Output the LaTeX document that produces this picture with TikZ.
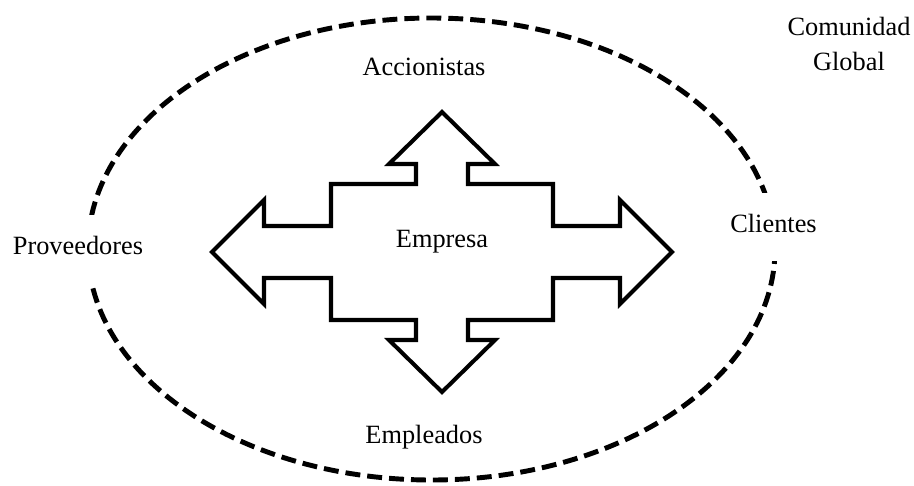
\documentclass[tikz,border=0pt]{standalone}
\usepackage{fontspec}
\setmainfont{Liberation Serif}
\usepackage{tikz}
\usetikzlibrary{calc,positioning}

\tikzset{
  lbl/.style={font=\fontsize{15}{19.8}\selectfont, inner sep=0pt, anchor=base},
  gaplbl/.style={lbl, fill=white, inner xsep=3pt, text height=0.78cm, text depth=0.57cm},
  ring/.style={line width=2.8pt, dash pattern=on 8.5pt off 4pt},
  cross/.style={line width=2.3pt, line join=miter}
}

\begin{document}
\begin{tikzpicture}[x=0.02cm, y=-0.02cm]
        \useasboundingbox (0,0) rectangle (914,485);
        % comunidad
        \draw[ring] (431.5,249) ellipse [x radius=343.5, y radius=231];
        % empresa
        \draw[cross, shift={(442,252)}] (0,-140) -- (53,-88) -- (26,-88) -- (26,-68) -- (111,-68) -- (111,-26)
              -- (178,-26) -- (178,-52) -- (230,0) -- (178,52) -- (178,26) -- (111,26) -- (111,68)
              -- (26,68) -- (26,88) -- (53,88) -- (0,140) -- (-53,88) -- (-26,88) -- (-26,68)
              -- (-111,68) -- (-111,26) -- (-178,26) -- (-178,52) -- (-230,0) -- (-178,-52)
              -- (-178,-26) -- (-111,-26) -- (-111,-68) -- (-26,-68) -- (-26,-88) -- (-53,-88) -- cycle;
        \node[lbl] (empresa) at (442,247) {Empresa};
        \node[lbl] (accionistas) at (424,75) {Accionistas};
        \node[lbl] (empleados) at (424,443) {Empleados};
        \node[gaplbl] (proveedores) at (78,254) {Proveedores};
        \node[gaplbl] (clientes) at (773.5,232) {Clientes};
        \node[lbl, anchor=center, align=center] (comunidad) at (849,44) {Comunidad\\Global};
\end{tikzpicture}
\end{document}
